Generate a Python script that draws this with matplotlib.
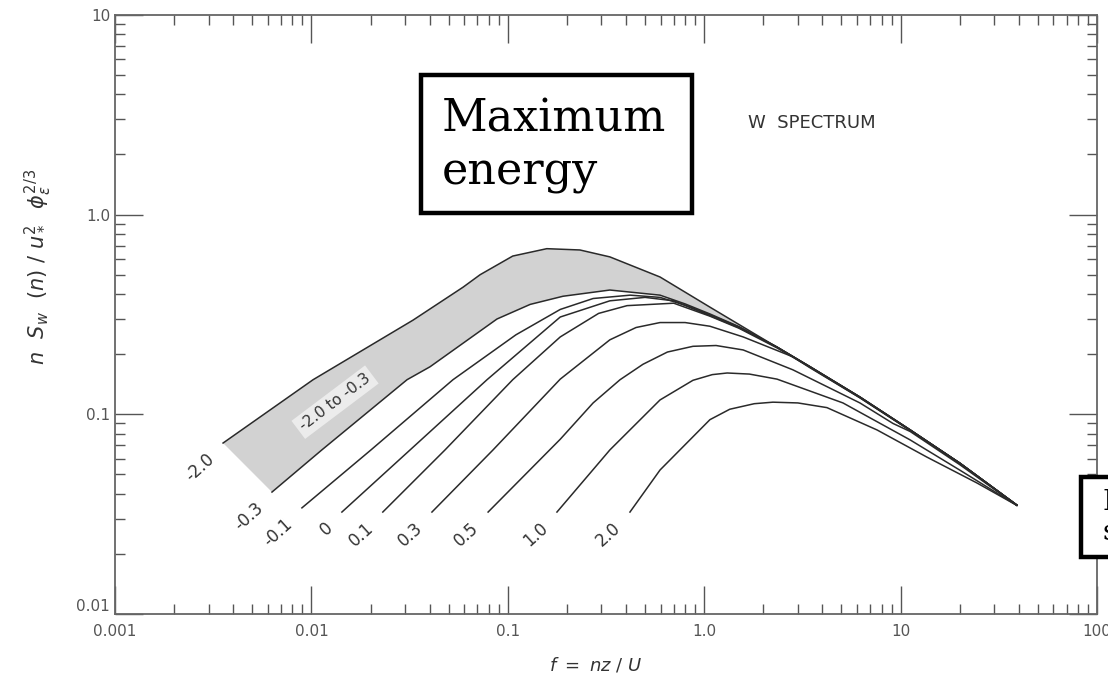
import matplotlib
matplotlib.use("Agg")
import matplotlib.pyplot as plt
from matplotlib.patches import Rectangle

# curves: f = nz/U  vs  n S_w(n) / u*^2 phi_e^(2/3)
x_m20 = [0.00355, 0.0102, 0.0329, 0.0592, 0.0723, 0.106, 0.158, 0.233, 0.331, 0.596, 1.07, 1.92, 3.46, 6.21, 11.2, 20.0, 39.1]
y_m20 = [0.0718, 0.149, 0.296, 0.433, 0.50, 0.62, 0.675, 0.665, 0.614, 0.487, 0.344, 0.244, 0.173, 0.122, 0.0835, 0.057, 0.0351]

x_m03 = [0.0063, 0.0113, 0.0307, 0.0402, 0.0881, 0.13, 0.191, 0.331, 0.596, 0.8, 1.07, 1.5, 2.35, 3.46, 6.21, 11.2, 20.0, 39.1]
y_m03 = [0.0408, 0.0663, 0.149, 0.173, 0.300, 0.355, 0.39, 0.419, 0.395, 0.357, 0.318, 0.275, 0.217, 0.173, 0.122, 0.0835, 0.057, 0.0351]

x_m01 = [0.00895, 0.0201, 0.0526, 0.11, 0.185, 0.272, 0.42, 0.596, 0.8, 1.07, 1.5, 2.35, 3.46, 6.21, 11.2, 20.0, 39.1]
y_m01 = [0.034, 0.0663, 0.149, 0.25, 0.335, 0.38, 0.395, 0.385, 0.352, 0.315, 0.274, 0.217, 0.173, 0.122, 0.0835, 0.057, 0.0351]

x_0 = [0.0143, 0.0318, 0.0784, 0.185, 0.331, 0.5, 0.7, 1.07, 1.5, 2.35, 3.46, 6.21, 11.2, 20.0, 39.1]
y_0 = [0.0324, 0.0663, 0.149, 0.307, 0.37, 0.385, 0.37, 0.312, 0.272, 0.217, 0.173, 0.122, 0.0835, 0.057, 0.0351]

x_p01 = [0.0231, 0.0479, 0.106, 0.185, 0.29, 0.405, 0.7, 1.07, 1.5, 2.35, 3.46, 6.21, 11.2, 20.0, 39.1]
y_p01 = [0.0324, 0.0663, 0.149, 0.244, 0.32, 0.35, 0.36, 0.31, 0.27, 0.215, 0.172, 0.121, 0.083, 0.057, 0.0351]

x_p03 = [0.0411, 0.0841, 0.185, 0.331, 0.45, 0.596, 0.8, 1.07, 1.58, 2.83, 3.46, 6.21, 11.2, 20.0, 39.1]
y_p03 = [0.0324, 0.0663, 0.15, 0.236, 0.272, 0.288, 0.288, 0.276, 0.244, 0.194, 0.171, 0.121, 0.083, 0.057, 0.0351]

x_p05 = [0.0794, 0.185, 0.272, 0.373, 0.488, 0.65, 0.877, 1.15, 1.58, 2.83, 6.21, 9.15, 11.2, 20.0, 39.1]
y_p05 = [0.0324, 0.075, 0.114, 0.149, 0.178, 0.205, 0.219, 0.221, 0.21, 0.167, 0.114, 0.090, 0.082, 0.056, 0.035]

x_p10 = [0.178, 0.331, 0.596, 0.877, 1.1, 1.31, 1.7, 2.35, 5.09, 11.2, 20.0, 39.1]
y_p10 = [0.0324, 0.0663, 0.118, 0.148, 0.158, 0.161, 0.159, 0.15, 0.114, 0.0744, 0.0526, 0.035]

x_p20 = [0.419, 0.596, 1.07, 1.35, 1.8, 2.24, 3.0, 4.22, 7.59, 13.6, 24.5, 39.1]
y_p20 = [0.0324, 0.0526, 0.094, 0.106, 0.113, 0.115, 0.114, 0.108, 0.0835, 0.0611, 0.0453, 0.035]

curves = [(x_m20, y_m20), (x_m03, y_m03), (x_m01, y_m01), (x_0, y_0), (x_p01, y_p01),
          (x_p03, y_p03), (x_p05, y_p05), (x_p10, y_p10), (x_p20, y_p20)]
labels = ['-2.0', '-0.3', '-0.1', '0', '0.1', '0.3', '0.5', '1.0', '2.0']

xticks = [0.001, 0.01, 0.1, 1.0, 10, 100]
xticklabels = ['0.001', '0.01', '0.1', '1.0', '10', '100']
yticks = [0.01, 0.1, 1.0, 10]
yticklabels = ['0.01', '0.1', '1.0', '10']

ink = '#2a2a2a'

fig = plt.figure(figsize=(11.08, 6.76), dpi=100)
ax = fig.add_axes([0.1038, 0.0917, 0.8862, 0.8863])
ax.set_xscale('log')
ax.set_yscale('log')
ax.set_xlim(0.001, 100)
ax.set_ylim(0.01, 10)

# shaded band between -2.0 and -0.3
band_x = x_m20[:12] + x_m03[:13][::-1]
band_y = y_m20[:12] + y_m03[:13][::-1]
ax.fill(band_x, band_y, color='#d2d2d2', lw=0, zorder=1)

for (cx, cy), lab in zip(curves, labels):
    ax.plot(cx, cy, color=ink, lw=1.1, zorder=3)
    ax.annotate(lab, xy=(cx[0], cy[0]), xytext=(-4, -5), textcoords='offset points',
                ha='right', va='top', rotation=42, fontsize=12, color='#333')

ax.text(0.0132, 0.115, '-2.0 to -0.3', rotation=37, ha='center', va='center',
        fontsize=11, color='#333', zorder=4,
        bbox=dict(boxstyle='square,pad=0.25', fc='#ececec', ec='none'))

ax.text(0.71, 0.82, 'W  SPECTRUM', transform=ax.transAxes, ha='center', va='center',
        fontsize=13, color='#333')

ax.set_xticks(xticks)
ax.set_xticklabels(xticklabels)
ax.set_yticks(yticks)
ax.set_yticklabels(yticklabels)
ax.tick_params(which='major', direction='in', length=20, width=1, top=True, right=True,
               colors='#555', labelsize=11, labelcolor='#555')
ax.tick_params(which='minor', direction='in', length=7, width=1, top=True, right=True,
               colors='#555')
ax.tick_params(axis='x', which='major', pad=7)
ax.get_yticklabels()[0].set_va('bottom')
for s in ax.spines.values():
    s.set_color('#666')
    s.set_linewidth(1.3)

ax.set_xlabel(r'$f\ =\ nz\ /\ U$', fontsize=13, color='#333')
ax.set_ylabel(r'$n\ \ S_w\ \ (n)\ /\ u_*^2\ \ \phi_\epsilon^{2/3}$', fontsize=15, color='#333')
ax.xaxis.set_label_coords(0.49, -0.07)
ax.yaxis.set_label_coords(-0.062, 0.58)

# boxed annotations pasted over the figure
fig.patches.append(Rectangle((421 / 1108, 1 - 213 / 676), 271 / 1108, 138 / 676,
                             transform=fig.transFigure, fill=True, fc='white',
                             ec='black', lw=3.2, zorder=10))
fig.text(442 / 1108, 1 - 132 / 676, 'Maximum', fontsize=32, family='DejaVu Serif',
         va='baseline', ha='left', zorder=11)
fig.text(442 / 1108, 1 - 184 / 676, 'energy', fontsize=32, family='DejaVu Serif',
         va='baseline', ha='left', zorder=11)

fig.patches.append(Rectangle((1081 / 1108, 1 - 557 / 676), 200 / 1108, 80 / 676,
                             transform=fig.transFigure, fill=True, fc='white',
                             ec='black', lw=3.2, zorder=10))
fig.text(1102 / 1108, 1 - 510 / 676, 'Inertial', fontsize=20, family='DejaVu Serif',
         va='baseline', ha='left', zorder=11)
fig.text(1102 / 1108, 1 - 540 / 676, 'subrange', fontsize=20, family='DejaVu Serif',
         va='baseline', ha='left', zorder=11)

fig.savefig('out.png', dpi=100)
